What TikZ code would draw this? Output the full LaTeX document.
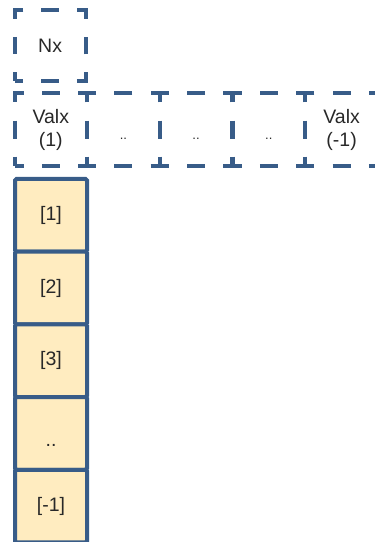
\documentclass[tikz,border=0pt]{standalone}
\usepackage{fontspec}
\setmainfont{Liberation Sans}
\definecolor{rand}{RGB}{56,92,136}
\definecolor{zelle}{RGB}{255,236,192}
\definecolor{schrift}{RGB}{40,40,40}

\tikzset{
  kasten/.style={draw=rand, line width=4pt, inner sep=0pt, text=schrift, align=center, font=\fontsize{19.5}{23}\selectfont},
  gestrichelt/.style={kasten, dash pattern=on 18pt off 18.2pt, dash phase=9pt, minimum width=72.4pt, minimum height=72.4pt},
  feld/.style={kasten, fill=zelle, rounded corners=1.5pt, minimum width=72pt, minimum height=72.7pt},
  punkte/.style={font=\fontsize{13}{15}\selectfont, text height=19pt, text depth=0pt}
}

\begin{document}
\begin{tikzpicture}[x=1pt, y=-1pt]

    \useasboundingbox (0,0) rectangle (375,542);

    % Kopf
    \node[gestrichelt, minimum width=71pt, minimum height=71pt, dash pattern=on 17.5pt off 18pt, dash phase=8.75pt] (nx) at (50.1,45.7) {Nx};

    % Zeile
    \node[gestrichelt] (valx-1) at (50.8,129.5) {Valx\\(1)};
    \node[gestrichelt, punkte] (valx-2) at (123.4,129.5) {..};
    \node[gestrichelt, punkte] (valx-3) at (196,129.5) {..};
    \node[gestrichelt, punkte] (valx-4) at (268.8,129.5) {..};
    \node[gestrichelt] (valx-end) at (341.6,129.5) {Valx\\(-1)};

    % Spalte
    \node[feld] (feld-1) at (51,215.3) {[1]};
    \node[feld] (feld-2) at (51,288) {[2]};
    \node[feld] (feld-3) at (51,360.7) {[3]};
    \node[feld, text height=27pt, text depth=0pt] (feld-4) at (51,433.4) {..};
    \node[feld] (feld-end) at (51,506.1) {[-1]};

\end{tikzpicture}
\end{document}
